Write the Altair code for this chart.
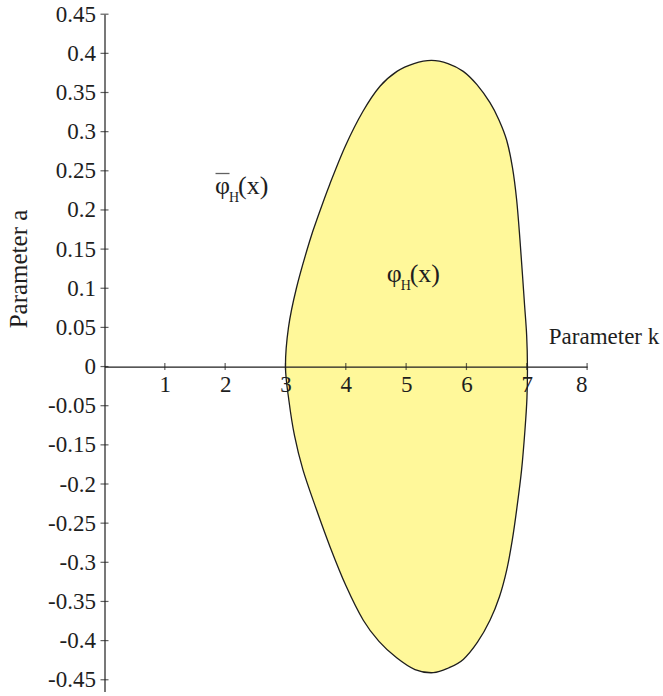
import altair as alt
import pandas as pd

# Closed boundary of the region, traced from (3, 0) over the upper branch and back along the lower one
BOUNDARY_K = [3.0, 3.05, 3.181, 3.4, 3.559, 3.73, 3.995, 4.285, 4.567, 4.848, 5.13, 5.42, 5.694,
              5.947, 6.174, 6.39, 6.539, 6.667, 6.763, 6.832, 6.887, 6.929, 6.963, 6.998, 7.011,
              7.003, 6.97, 6.914, 6.832, 6.759, 6.667, 6.547, 6.39, 6.183, 5.947, 5.702, 5.45,
              5.147, 4.843, 4.55, 4.29, 4.003, 3.738, 3.506, 3.29, 3.149, 3.058]
BOUNDARY_A = [0.0, 0.05, 0.1, 0.16, 0.196, 0.232, 0.282, 0.326, 0.358, 0.377, 0.387, 0.391, 0.387,
              0.377, 0.36, 0.337, 0.315, 0.289, 0.254, 0.213, 0.162, 0.117, 0.079, 0.04, 0.0,
              -0.04, -0.081, -0.132, -0.183, -0.222, -0.26, -0.294, -0.324, -0.352, -0.374,
              -0.385, -0.391, -0.387, -0.372, -0.351, -0.324, -0.28, -0.23, -0.181, -0.132,
              -0.088, -0.044]

# Axis ticks and their printed labels
X_TICKS = [1, 2, 3, 4, 5, 6, 7, 8]
Y_TICK_POS = [round(0.45 - 0.05 * i, 2) for i in range(18)]
Y_TICK_LABELS = ["0.45", "0.4", "0.35", "0.3", "0.25", "0.2", "0.15", "0.1", "0.05", "0",
                 "-0.05", "-0.15", "-0.2", "-0.25", "-0.3", "-0.35", "-0.4", "-0.45"]

# Region labels (k, a of the symbol's baseline start)
ANN_K = [1.832, 4.678]
ANN_A = [0.221, 0.108]
ANN_BAR = [True, False]

FONT = "Liberation Serif"
INK = "#1e1e1e"
FILL = "#fff89a"

W, H = 482.6, 677.3
Y_DOMAIN = [-0.415, 0.45]
X_DOMAIN = [0, 8]
y_zero_px = H * (Y_DOMAIN[1] - 0) / (Y_DOMAIN[1] - Y_DOMAIN[0])

xs = alt.Scale(domain=X_DOMAIN, nice=False, zero=False)
ys = alt.Scale(domain=Y_DOMAIN, nice=False, zero=False)

region = pd.DataFrame({"k": BOUNDARY_K, "a": BOUNDARY_A, "i": range(len(BOUNDARY_K))})
yticks = pd.DataFrame({"k": [0] * len(Y_TICK_POS), "a": Y_TICK_POS})
xticks = pd.DataFrame({"k": X_TICKS, "a": [0] * len(X_TICKS)})
ann = pd.DataFrame({"k": ANN_K, "a": ANN_A, "bar": ANN_BAR})

label_list = "[" + ",".join("'%s'" % s for s in Y_TICK_LABELS) + "]"

x_axis = alt.Axis(
    values=X_TICKS, format="d", ticks=False, grid=False, domainColor=INK, domainWidth=1.2,
    offset=-(H - y_zero_px), labelFont=FONT, labelFontSize=23, labelColor=INK, labelPadding=7,
    labelOverlap=False, zindex=1,
    title="Parameter k", titleFont=FONT, titleFontSize=23, titleFontWeight="normal",
    titleColor=INK, titleX=443.8, titleY=-23.2, titleAlign="left", titleBaseline="alphabetic",
    titleAngle=0,
)
y_axis = alt.Axis(
    values=Y_TICK_POS, ticks=False, grid=False, domainColor=INK, domainWidth=1.2,
    labelExpr=label_list + "[round((0.45 - datum.value) / 0.05)]",
    labelFont=FONT, labelFontSize=23, labelColor=INK, labelPadding=9, labelOverlap=False,
    zindex=1,
    title="Parameter a", titleFont=FONT, titleFontSize=25, titleFontWeight="normal",
    titleColor=INK, titleX=-77.8, titleY=254.3, titleAlign="center", titleBaseline="alphabetic",
    titleAngle=270,
)

X = alt.X("k:Q", scale=xs, axis=x_axis)
Y = alt.Y("a:Q", scale=ys, axis=y_axis)

shape = alt.Chart(region).mark_line(
    fill=FILL, stroke=INK, strokeWidth=1.3, interpolate="cardinal-closed",
).encode(x=X, y=Y, order="i:Q")

ytick_marks = alt.Chart(yticks).mark_tick(
    orient="horizontal", size=8, thickness=1.2, color=INK,
).encode(x=X, y=Y)
xtick_marks = alt.Chart(xticks).mark_tick(
    orient="vertical", size=7, thickness=1.2, color=INK,
).encode(x=X, y=Y)

def ann_text(text, size, dx, dy):
    return alt.Chart(ann).mark_text(
        text=text, font=FONT, fontSize=size, color=INK, align="left", baseline="alphabetic",
        dx=dx, dy=dy,
    ).encode(x=X, y=Y)

phi = ann_text("φ", 26, 0, 0)
sub = ann_text("H", 14, 14, 8.5)
arg = ann_text("(x)", 26, 23, 0)
overbar = alt.Chart(ann[ann["bar"]]).mark_tick(
    orient="horizontal", size=14, thickness=1.3, color=INK, xOffset=7.5, yOffset=-20,
).encode(x=X, y=Y)

chart = alt.layer(shape, ytick_marks, xtick_marks, phi, sub, arg, overbar).properties(
    width=W, height=H,
    autosize=alt.AutoSizeParams(type="none"),
    padding={"left": 104.5, "top": 14.2, "right": 663 - 104.5 - W, "bottom": 696 - 14.2 - H},
    background="white",
).configure_view(stroke=None).configure_axis(
    labelFont=FONT, titleFont=FONT, labelOverlap=False, labelFontSize=23,
)

chart.save("out.html", embed_options={"renderer": "svg", "actions": False})
